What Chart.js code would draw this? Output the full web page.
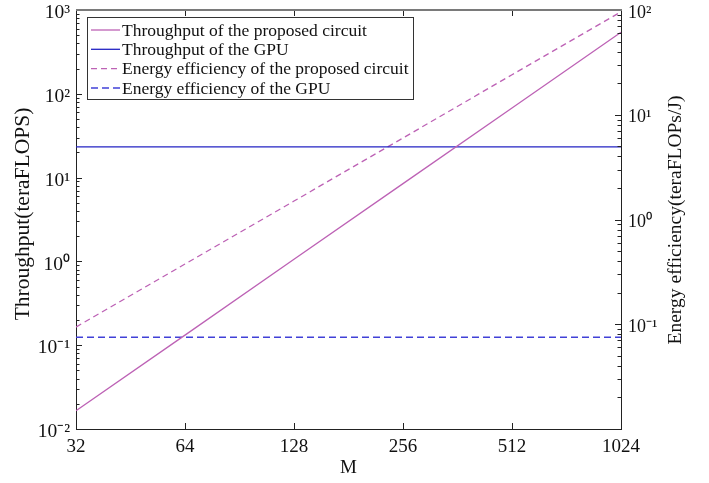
<!DOCTYPE html>
<html><head><meta charset="utf-8">
<script src="https://cdn.jsdelivr.net/npm/chart.js@4/dist/chart.umd.min.js"></script>
<style>html,body{margin:0;padding:0;background:#fff}canvas{display:block}</style>
</head><body>
<canvas id="c" width="709" height="483"></canvas>
<script>
// ---- data ----
const M = [32, 64, 128, 256, 512, 1024];
const throughputProposed = [0.0165, 0.132, 1.06, 8.47, 67.8, 542];
const throughputGPU = [23.2, 23.2, 23.2, 23.2, 23.2, 23.2];
const energyProposed = [0.094, 0.376, 1.5, 6.0, 24.1, 96];
const energyGPU = [0.075, 0.075, 0.075, 0.075, 0.075, 0.075];
const seriesLabels = [
  'Throughput of the proposed circuit',
  'Throughput of the GPU',
  'Energy efficiency of the proposed circuit',
  'Energy efficiency of the GPU'
];
const xTicks = [32, 64, 128, 256, 512, 1024];
const leftTicks = [0.01, 0.1, 1, 10, 100, 1000];
const rightTicks = [0.1, 1, 10, 100];
const xTitle = 'M';
const leftTitle = 'Throughput(teraFLOPS)';
const rightTitle = 'Energy efficiency(teraFLOPs/J)';

const SERIF = "'Liberation Serif', 'Times New Roman', serif";
const PINK = 'rgb(189,98,181)';
const BLUE = 'rgb(35,35,195)';
const BLUE2 = 'rgb(65,65,215)';

const SUP = {'-':'\u207B','0':'\u2070','1':'\u00B9','2':'\u00B2','3':'\u00B3','4':'\u2074','5':'\u2075','6':'\u2076','7':'\u2077','8':'\u2078','9':'\u2079'};
function pow10Label(v) {
  const e = String(Math.round(Math.log10(v)));
  return '10' + e.split('').map(c => SUP[c]).join('');
}
const pts = (ys) => M.map((m, i) => ({x: m, y: ys[i]}));

const innerTicks = {
  id: 'innerTicks',
  afterDraw(chart) {
    const {ctx, chartArea: a, scales} = chart;
    ctx.save();
    ctx.strokeStyle = '#222';
    ctx.lineWidth = 1;
    const yl = scales.y;
    for (let d = -2; d <= 2; d++) {
      for (let k = 1; k <= 9; k++) {
        const v = k * Math.pow(10, d);
        const py = Math.round(yl.getPixelForValue(v)) + 0.5;
        const len = k === 1 ? 6 : 3.5;
        ctx.beginPath(); ctx.moveTo(a.left, py); ctx.lineTo(a.left + len, py); ctx.stroke();
      }
    }
    const yr = scales.y1;
    for (let d = -2; d <= 1; d++) {
      for (let k = 1; k <= 9; k++) {
        const v = k * Math.pow(10, d);
        const py = Math.round(yr.getPixelForValue(v)) + 0.5;
        const len = k === 1 ? 6 : 3.5;
        ctx.beginPath(); ctx.moveTo(a.right, py); ctx.lineTo(a.right - len, py); ctx.stroke();
      }
    }
    const xs = scales.x;
    xTicks.slice(1, -1).forEach(v => {
      const px = Math.round(xs.getPixelForValue(v)) + 0.5;
      ctx.beginPath(); ctx.moveTo(px, a.bottom); ctx.lineTo(px, a.bottom - 6); ctx.stroke();
      ctx.beginPath(); ctx.moveTo(px, a.top); ctx.lineTo(px, a.top + 6); ctx.stroke();
    });
    ctx.strokeStyle = '#7a7a7a';
    ctx.lineWidth = 2;
    ctx.beginPath(); ctx.moveTo(a.left, a.top); ctx.lineTo(a.right + 1, a.top); ctx.stroke();

    ctx.fillStyle = '#111';
    ctx.textAlign = 'center';
    ctx.textBaseline = 'middle';
    ctx.save();
    ctx.font = '21.5px ' + SERIF;
    ctx.translate(23, 214);
    ctx.rotate(-Math.PI / 2);
    ctx.fillText(leftTitle, 0, 0);
    ctx.restore();
    ctx.save();
    ctx.font = '19.5px ' + SERIF;
    ctx.translate(676, 220);
    ctx.rotate(-Math.PI / 2);
    ctx.fillText(rightTitle, 0, 0);
    ctx.restore();
    ctx.restore();
  }
};

const boxLegend = {
  id: 'boxLegend',
  afterDatasetsDraw(chart) {
    const {ctx} = chart;
    ctx.save();
    const bx = 87.5, by = 17.5, bw = 326, bh = 82;
    ctx.fillStyle = '#fff';
    ctx.fillRect(bx, by, bw, bh);
    ctx.strokeStyle = '#333';
    ctx.lineWidth = 1;
    ctx.strokeRect(bx, by, bw, bh);
    const ys = [30, 49.3, 68.6, 88];
    ctx.font = '17.5px ' + SERIF;
    ctx.textBaseline = 'middle';
    ctx.textAlign = 'left';
    chart.data.datasets.forEach((ds, i) => {
      ctx.strokeStyle = ds.borderColor;
      ctx.lineWidth = ds.borderWidth;
      ctx.setLineDash(ds.borderDash || []);
      ctx.beginPath(); ctx.moveTo(91, ys[i]); ctx.lineTo(120, ys[i]); ctx.stroke();
      ctx.setLineDash([]);
      ctx.fillStyle = '#111';
      ctx.fillText(ds.label, 122, ys[i] + 1);
    });
    ctx.restore();
  }
};

new Chart(document.getElementById('c'), {
  type: 'line',
  data: {
    datasets: [
      {label: seriesLabels[0], data: pts(throughputProposed), yAxisID: 'y', borderColor: PINK, borderWidth: 1.3, pointRadius: 0, tension: 0},
      {label: seriesLabels[1], data: pts(throughputGPU), yAxisID: 'y', borderColor: BLUE, borderWidth: 1.3, pointRadius: 0, tension: 0},
      {label: seriesLabels[2], data: pts(energyProposed), yAxisID: 'y1', borderColor: PINK, borderWidth: 1.3, borderDash: [6, 4], pointRadius: 0, tension: 0},
      {label: seriesLabels[3], data: pts(energyGPU), yAxisID: 'y1', borderColor: BLUE2, borderWidth: 1.5, borderDash: [7, 4], pointRadius: 0, tension: 0}
    ]
  },
  options: {
    responsive: false,
    animation: false,
    layout: {padding: 0},
    plugins: {legend: {display: false}, tooltip: {enabled: false}},
    scales: {
      x: {
        type: 'logarithmic', min: 32, max: 1024,
        afterBuildTicks: s => { s.ticks = xTicks.map(v => ({value: v})); },
        afterFit: s => { s.height = 54; },
        ticks: {callback: v => String(v), color: '#111', font: {family: SERIF, size: 19}, padding: 7, maxRotation: 0, autoSkip: false},
        grid: {display: false, drawTicks: false},
        border: {display: true, color: '#222', width: 1},
        title: {display: true, text: xTitle, color: '#111', font: {family: SERIF, size: 19}, padding: {top: 0, bottom: 4}}
      },
      y: {
        type: 'logarithmic', position: 'left', min: 0.01, max: 1000,
        afterBuildTicks: s => { s.ticks = leftTicks.map(v => ({value: v})); },
        afterFit: s => { s.width = 76; s.paddingTop = 10; s.paddingBottom = 0; },
        ticks: {callback: v => pow10Label(v), color: '#111', font: {family: SERIF, size: 19.5}, padding: 6, labelOffset: 3},
        grid: {display: false, drawTicks: false},
        border: {display: true, color: '#222', width: 1},
        title: {display: false}
      },
      y1: {
        type: 'logarithmic', position: 'right', min: 0.01, max: 100,
        afterBuildTicks: s => { s.ticks = rightTicks.map(v => ({value: v})); },
        afterFit: s => { s.width = 88; s.paddingTop = 10; s.paddingBottom = 0; },
        ticks: {callback: v => pow10Label(v), color: '#111', font: {family: SERIF, size: 18}, padding: 7, labelOffset: 3},
        grid: {display: false, drawTicks: false},
        border: {display: true, color: '#222', width: 1},
        title: {display: false}
      }
    }
  },
  plugins: [innerTicks, boxLegend]
});
</script>
</body></html>
